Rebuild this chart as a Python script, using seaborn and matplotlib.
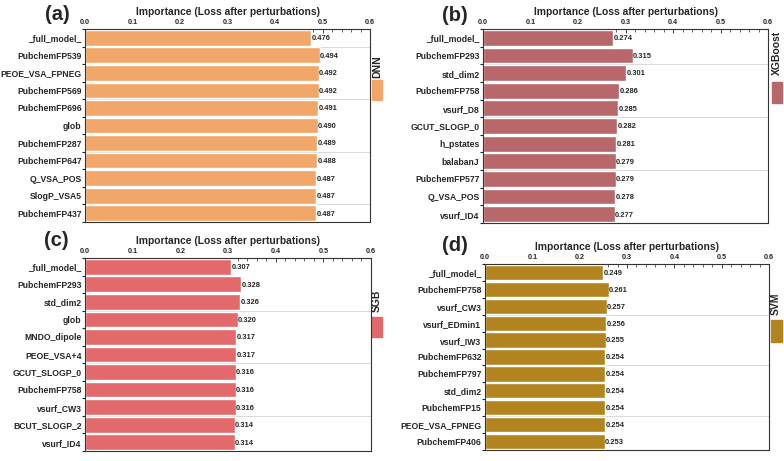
import matplotlib
matplotlib.use("Agg")
import matplotlib.pyplot as plt
import seaborn as sns
import pandas as pd
from matplotlib.patches import Rectangle
from matplotlib.ticker import MultipleLocator, FixedLocator

sns.set_style("white")
plt.rcParams['font.family'] = ['Liberation Sans', 'DejaVu Sans']
plt.rcParams['font.weight'] = 'bold'

dnn_features = ["_full_model_", "PubchemFP539", "PEOE_VSA_FPNEG", "PubchemFP569", "PubchemFP696",
                "glob", "PubchemFP287", "PubchemFP647", "Q_VSA_POS", "SlogP_VSA5", "PubchemFP437"]
dnn_values = [0.476, 0.494, 0.492, 0.492, 0.491, 0.490, 0.489, 0.488, 0.487, 0.487, 0.487]

xgb_features = ["_full_model_", "PubchemFP293", "std_dim2", "PubchemFP758", "vsurf_D8",
                "GCUT_SLOGP_0", "h_pstates", "balabanJ", "PubchemFP577", "Q_VSA_POS", "vsurf_ID4"]
xgb_values = [0.274, 0.315, 0.301, 0.286, 0.285, 0.282, 0.281, 0.279, 0.279, 0.278, 0.277]

sgb_features = ["_full_model_", "PubchemFP293", "std_dim2", "glob", "MNDO_dipole",
                "PEOE_VSA+4", "GCUT_SLOGP_0", "PubchemFP758", "vsurf_CW3", "BCUT_SLOGP_2", "vsurf_ID4"]
sgb_values = [0.307, 0.328, 0.326, 0.320, 0.317, 0.317, 0.316, 0.316, 0.316, 0.314, 0.314]

svm_features = ["_full_model_", "PubchemFP758", "vsurf_CW3", "vsurf_EDmin1", "vsurf_IW3",
                "PubchemFP632", "PubchemFP797", "std_dim2", "PubchemFP15", "PEOE_VSA_FPNEG", "PubchemFP406"]
svm_values = [0.249, 0.261, 0.257, 0.256, 0.255, 0.254, 0.254, 0.254, 0.254, 0.254, 0.253]

models = ["DNN", "XGBoost", "SGB", "SVM"]
panel_labels = ["(a)", "(b)", "(c)", "(d)"]
x_ticks = [0.0, 0.1, 0.2, 0.3, 0.4, 0.5, 0.6]
x_label = "Importance (Loss after perturbations)"

# styling
W, H = 784, 461
colors = ["#F2A76A", "#B8676A", "#E26A6C", "#B2841F"]
px_boxes = [(85, 29, 285, 193), (483, 29, 285, 194), (85, 258, 286, 193), (485, 264, 284, 186)]
rects = [[l / W, 1 - (t + h) / H, w / W, h / H] for (l, t, w, h) in px_boxes]
grid_rows = [[0.5, 3.5, 6.5, 9.5], [1.5, 4.5, 7.5], [2.5, 5.5, 8.5], [2.5, 5.5, 8.5]]
label_pos = [(-0.098, 1.073), (-0.098, 1.072), (-0.101, 1.093), (-0.106, 1.102)]
legend_text_pos = [(1.025, 0.803), (1.032, 0.876), (1.021, 0.777), (1.025, 0.785)]
legend_patch = [(1.007, 0.632, 0.035, 0.104), (1.014, 0.619, 0.035, 0.108),
                (1.003, 0.591, 0.035, 0.104), (1.007, 0.580, 0.039, 0.118)]

panels = [(dnn_features, dnn_values), (xgb_features, xgb_values),
          (sgb_features, sgb_values), (svm_features, svm_values)]

fig = plt.figure(figsize=(7.84, 4.61), dpi=100)

for i, (feats, vals) in enumerate(panels):
    ax = fig.add_axes(rects[i])
    df = pd.DataFrame({"feature": feats, "value": vals})
    for g in grid_rows[i]:
        ax.axhline(g, color="#d9d9d9", lw=0.7, zorder=0)
    sns.barplot(data=df, x="value", y="feature", orient="h", color=colors[i],
                saturation=1, width=0.9, ax=ax, zorder=2)
    ax.set_xlim(0, 0.6)
    ax.set_ylim(len(feats) - 0.5, -0.5)
    ax.xaxis.tick_top()
    ax.xaxis.set_label_position("top")
    ax.set_xticks(x_ticks)
    ax.set_xticklabels([f"{t:.1f}" for t in x_ticks], fontsize=5.2, fontweight="bold")
    ax.xaxis.set_minor_locator(MultipleLocator(0.02))
    ax.tick_params(axis="x", which="major", direction="in", length=3, width=0.6, pad=2)
    ax.tick_params(axis="x", which="minor", direction="in", length=1.8, width=0.5, top=True)
    ax.set_xlabel(x_label, fontsize=7.4, fontweight="bold", labelpad=3)
    ax.set_ylabel("")
    ax.set_yticks(range(len(feats)))
    ax.set_yticklabels(feats, fontsize=6.2, fontweight="bold")
    ax.yaxis.set_minor_locator(FixedLocator([k + 0.5 for k in range(-1, len(feats))]))
    ax.tick_params(axis="y", which="major", length=0, pad=2.5)
    ax.tick_params(axis="y", which="minor", direction="out", length=2, width=0.8, left=True)
    for s in ax.spines.values():
        s.set_color("#333333")
        s.set_linewidth(0.8)
    for k, v in enumerate(vals):
        ax.text(v + 0.001, k + 0.05, f"{v:.3f}", va="center", ha="left",
                fontsize=5.4, fontweight="bold", zorder=3)
    ax.text(label_pos[i][0], label_pos[i][1], panel_labels[i], transform=ax.transAxes,
            fontsize=14.5, fontweight="bold", ha="center", va="center")
    tx, ty = legend_text_pos[i]
    ax.text(tx, ty, models[i], transform=ax.transAxes, rotation=90,
            fontsize=7.5, fontweight="bold", ha="center", va="center")
    px, py, pw, ph = legend_patch[i]
    ax.add_patch(Rectangle((px, py), pw, ph, transform=ax.transAxes,
                           color=colors[i], clip_on=False))

fig.savefig("out.png", dpi=100)
